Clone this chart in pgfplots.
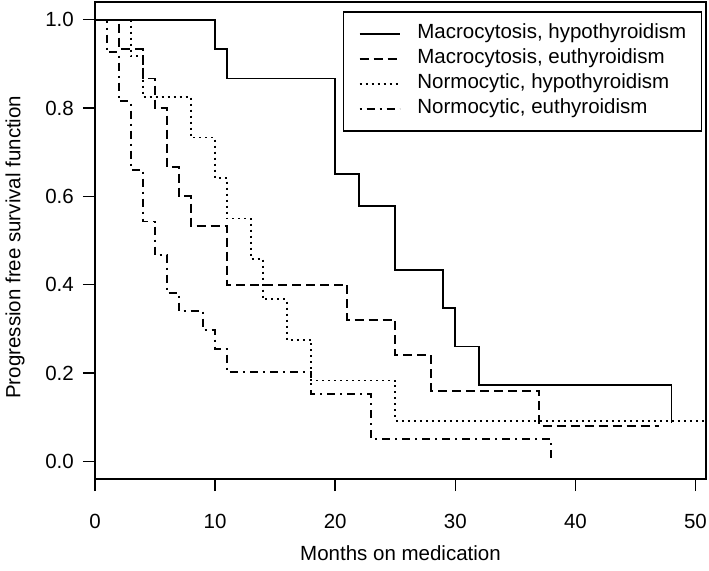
\documentclass[border=0pt]{standalone}
\usepackage{fontspec}
\setmainfont{Liberation Sans}
\usepackage{pgfplots}
\pgfplotsset{compat=1.18}
\begin{document}
\begin{tikzpicture}
\begin{axis}[
  scale only axis, width=611pt, height=477pt,
  xmin=0, xmax=50.875, ymin=-0.04, ymax=1.04,
  xtick={0,10,20,30,40,50}, ytick={0,0.2,0.4,0.6,0.8,1.0},
  yticklabels={0.0,0.2,0.4,0.6,0.8,1.0},
  xtick pos=left, ytick pos=left, tick align=outside,
  major tick length=12pt,
  every tick/.style={black, line width=1.5pt},
  axis line style={line width=1.5pt},
  font=\fontsize{20.5}{24}\selectfont,
  /pgf/number format/assume math mode=true,
  xticklabel style={inner sep=0pt, anchor=north, yshift=-23pt},
  yticklabel style={inner sep=0pt, anchor=east, xshift=-9pt},
  xlabel={Months on medication},
  ylabel={Progression free survival function},
  xlabel style={at={(axis description cs:0.5,-0.155)}, anchor=center},
  ylabel style={at={(axis description cs:-0.131,0.486)}, anchor=center},
  legend style={at={(rel axis cs:0.9935,0.981)}, anchor=north east, draw=black, line width=1.5pt,
    inner xsep=15pt, inner ysep=12pt, row sep=5pt,
    font=\fontsize{20.5}{24}\selectfont,
    nodes={inner sep=0pt, text height=15pt, text depth=5pt},
    /tikz/every odd column/.style={column sep=17pt}},
  legend cell align=left,
  legend image code/.code={\draw[#1] (0pt,0pt) -- (40pt,0pt);},
  no marks,
]
\coordinate (O) at (rel axis cs:0,0);
\addplot[const plot, black, line width=1.8pt] coordinates {(0,1)(10,0.933)(11,0.867)(20,0.650)(22,0.578)(25,0.433)(29,0.347)(30,0.260)(32,0.173)(48,0.087)};
\addlegendentry{Macrocytosis, hypothyroidism}
\addplot[const plot, black, line width=1.8pt, dash pattern=on 9pt off 5pt] coordinates {(0,1)(2,0.933)(4,0.867)(5,0.800)(6,0.667)(7,0.600)(8,0.533)(11,0.400)(21,0.320)(25,0.240)(28,0.160)(37,0.080)(47,0.080)};
\addlegendentry{Macrocytosis, euthyroidism}
\addplot[const plot, black, line width=1.8pt, dash pattern=on 2pt off 4pt] coordinates {(0,1)(3,0.917)(4,0.825)(8,0.733)(10,0.642)(11,0.550)(13,0.458)(14,0.367)(16,0.275)(18,0.183)(25,0.092)(52,0.092)};
\addlegendentry{Normocytic, hypothyroidism}
\addplot[const plot, black, line width=1.8pt, dash pattern=on 2pt off 5pt on 8pt off 5pt] coordinates {(0,1)(1,0.926)(2,0.815)(3,0.660)(4,0.543)(5,0.467)(6,0.381)(7,0.340)(9,0.297)(10,0.254)(11,0.203)(18,0.152)(23,0.050)(38,0.0)};
\addlegendentry{Normocytic, euthyroidism}
\end{axis}
\pgfresetboundingbox
\path ([shift={(-95pt,-91pt)}]O) rectangle ++(709pt,570pt);
\end{tikzpicture}
\end{document}
